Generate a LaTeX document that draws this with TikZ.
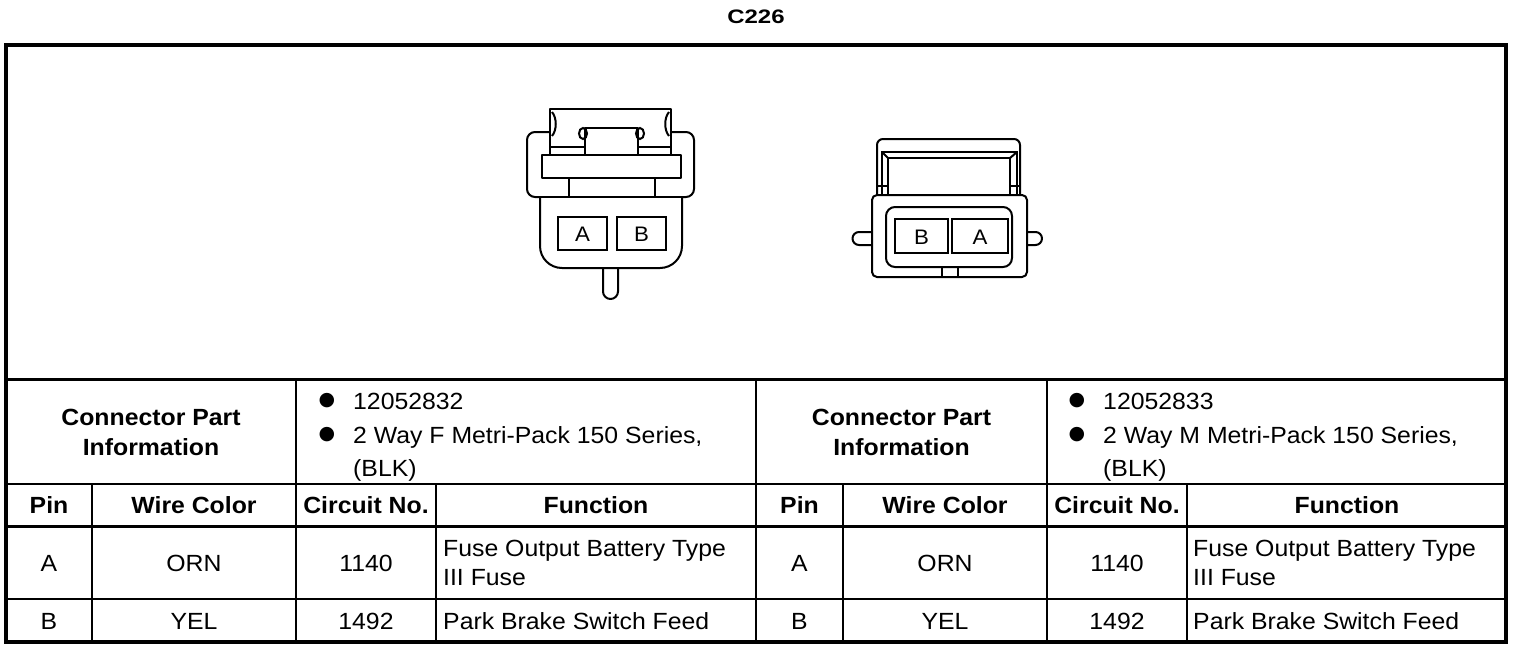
\documentclass[tikz,border=0pt]{standalone}
\usepackage{fontspec}
\setmainfont{Liberation Sans}[FakeStretch=1.06]
\newfontfamily\symfont{DejaVu Sans}
\begin{document}
\begin{tikzpicture}[x=1pt,y=-1pt,
  txt/.style={font=\fontsize{23.4}{29}\selectfont, inner sep=0pt, anchor=base},
  ltxt/.style={txt, anchor=base west},
  hd/.style={font=\fontsize{23.4}{29}\selectfont\bfseries, inner sep=0pt, anchor=base},
  bul/.style={font=\symfont\fontsize{19}{19}\selectfont, inner sep=0pt, anchor=center},
  pinlbl/.style={font=\fontsize{21}{21}\selectfont, inner sep=0pt, anchor=center},
  frame/.style={line width=4pt},
  thick rule/.style={line width=3pt},
  thin rule/.style={line width=2pt},
  part/.style={line width=2pt, fill=white, line join=round},
  partline/.style={line width=2pt},
]
\useasboundingbox (0,0) rectangle (1520,648);

% ---------- title ----------
\node[font=\fontsize{19.5}{20}\selectfont\bfseries, inner sep=0pt, anchor=base] (title) at (756,23) {\scalebox{1.16}[1]{C226}};

% ---------- table rules ----------
\draw[thin rule] (6,484) -- (1506,484);
\draw[thin rule] (6,599) -- (1506,599);
\draw[thin rule] (296,379) -- (296,642);
\draw[thin rule] (756,379) -- (756,642);
\draw[thin rule] (1047,379) -- (1047,642);
\foreach \xx in {92,436,843,1187} \draw[thin rule] (\xx,484) -- (\xx,642);
\draw[thick rule] (6,379) -- (1506,379);
\draw[thick rule] (6,526) -- (1506,526);
\draw[frame] (6,45) rectangle (1506,642);

% ---------- left connector (F) ----------
\draw[part, rounded corners=8pt] (527,132) rectangle (694,197);
\draw[part] (550,155) -- (550,109) -- (671,109) -- (671,155);
\draw[partline] (550,147) -- (585,147);
\draw[partline] (638,147) -- (671,147);
\draw[part] (585,155) -- (585,128) -- (638,128) -- (638,155);
\draw[partline] (583,133.5) ellipse[x radius=4pt, y radius=5.5pt];
\draw[partline] (640,133.5) ellipse[x radius=4pt, y radius=5.5pt];
\draw[partline] (552,112) .. controls (557,118) and (557,130) .. (552,136);
\draw[partline] (669,112) .. controls (664,118) and (664,130) .. (669,136);
\draw[part] (542,155) rectangle (681,178);
\draw[partline] (569,178) -- (569,197);
\draw[partline] (655,178) -- (655,197);
\draw[part] (603,262) -- (603,291.5) arc[start angle=180, end angle=360, radius=7.5pt] -- (618,262);
\draw[part, rounded corners=22pt] (540,197) -- (540,268) -- (682,268) -- (682,197);
\draw[partline] (540,197) -- (682,197);
\draw[partline] (558,217) rectangle (607,250);
\draw[partline] (617,217) rectangle (666,250);
\node[pinlbl] (la) at (582.5,234) {A};
\node[pinlbl] (lb) at (641.5,234) {B};

% ---------- right connector (M) ----------
\draw[part] (872,232) -- (859,232) arc[start angle=90, end angle=270, radius=6.5pt] -- (872,245);
\draw[part] (1027,232) -- (1035.5,232) arc[start angle=90, end angle=-90, radius=6.5pt] -- (1027,245);
\draw[part, rounded corners=6pt] (877,197) -- (877,139) -- (1020,139) -- (1020,197);
\draw[partline] (882,195) -- (882,152) -- (1017,152) -- (1017,195);
\draw[partline] (888,195) -- (888,158) -- (1010,158) -- (1010,195);
\draw[partline] (882,152) -- (888,158);
\draw[partline] (1017,152) -- (1010,158);
\draw[partline] (877,186) -- (888,186);
\draw[partline] (1010,186) -- (1020,186);
\draw[part, rounded corners=5pt] (872,195) -- (872,277) -- (1027,277) -- (1027,195) -- cycle;
\draw[partline, rounded corners=9pt] (886,207) rectangle (1012,267);
\draw[partline] (942,267) -- (942,277);
\draw[partline] (958,267) -- (958,277);
\draw[partline] (895,219) rectangle (948,253);
\draw[partline] (952,219) rectangle (1008,253);
\node[pinlbl] (rb) at (921.5,237) {B};
\node[pinlbl] (ra) at (980,237) {A};

% ---------- left table ----------
\node[hd] (cp1a) at (151,425) {Connector Part};
\node[hd] (cp1b) at (151,455) {Information};
\node[bul] (b1a) at (327,401) {●};
\node[bul] (b1b) at (327,435) {●};
\node[ltxt] (p1a) at (353,409) {12052832};
\node[ltxt] (p1b) at (353,443) {2 Way F Metri-Pack 150 Series,};
\node[ltxt] (p1c) at (353,476) {(BLK)};

\node[hd] (h1a) at (49,513.5) {Pin};
\node[hd] (h1b) at (194,513.5) {Wire Color};
\node[hd] (h1c) at (366,513.5) {Circuit No.};
\node[hd] (h1d) at (596,513.5) {Function};

\node[txt] (a1a) at (49,571) {A};
\node[txt] (a1b) at (194,571) {ORN};
\node[txt] (a1c) at (366,571) {1140};
\node[ltxt] (a1d) at (443,556) {Fuse Output Battery Type};
\node[ltxt] (a1e) at (443,585) {III Fuse};

\node[txt] (c1a) at (49,629) {B};
\node[txt] (c1b) at (194,629) {YEL};
\node[txt] (c1c) at (366,629) {1492};
\node[ltxt] (c1d) at (443,629) {Park Brake Switch Feed};

% ---------- right table ----------
\node[hd] (cp2a) at (901.5,425) {Connector Part};
\node[hd] (cp2b) at (901.5,455) {Information};
\node[bul] (b2a) at (1077,401) {●};
\node[bul] (b2b) at (1077,435) {●};
\node[ltxt] (p2a) at (1103,409) {12052833};
\node[ltxt] (p2b) at (1103,443) {2 Way M Metri-Pack 150 Series,};
\node[ltxt] (p2c) at (1103,476) {(BLK)};

\node[hd] (h2a) at (799.5,513.5) {Pin};
\node[hd] (h2b) at (945,513.5) {Wire Color};
\node[hd] (h2c) at (1117,513.5) {Circuit No.};
\node[hd] (h2d) at (1347,513.5) {Function};

\node[txt] (a2a) at (799.5,571) {A};
\node[txt] (a2b) at (945,571) {ORN};
\node[txt] (a2c) at (1117,571) {1140};
\node[ltxt] (a2d) at (1193,556) {Fuse Output Battery Type};
\node[ltxt] (a2e) at (1193,585) {III Fuse};

\node[txt] (c2a) at (799.5,629) {B};
\node[txt] (c2b) at (945,629) {YEL};
\node[txt] (c2c) at (1117,629) {1492};
\node[ltxt] (c2d) at (1193,629) {Park Brake Switch Feed};
\end{tikzpicture}
\end{document}
